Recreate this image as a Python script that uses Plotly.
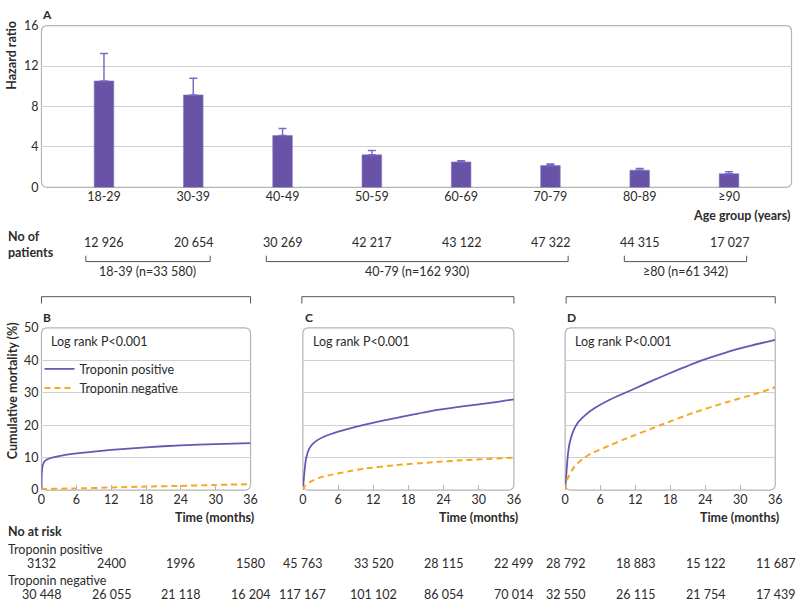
import plotly.graph_objects as go

# ---------------- data ----------------
age_groups = ["18-29", "30-39", "40-49", "50-59", "60-69", "70-79", "80-89", "≥90"]
hazard_ratio = [10.53, 9.15, 5.14, 3.23, 2.52, 2.16, 1.71, 1.36]
ci_upper = [13.25, 10.8, 5.82, 3.65, 2.65, 2.33, 1.87, 1.55]
n_patients = [12926, 20654, 30269, 42217, 43122, 47322, 44315, 17027]

group_labels = ["18-39 (n=33 580)", "40-79 (n=162 930)", "≥80 (n=61 342)"]
panel_letters = ["B", "C", "D"]

# cumulative mortality (%)
t_B_pos = [0, 0.05, 0.2, 0.5, 1, 2, 3, 6, 12, 18, 24, 30, 36]
y_B_pos = [0, 5.0, 7.5, 8.8, 9.5, 10.1, 10.5, 11.3, 12.4, 13.2, 13.8, 14.2, 14.5]
t_B_neg = [0, 0.4, 6, 12, 18, 24, 30, 36]
y_B_neg = [0, 0.3, 0.5, 0.8, 1.1, 1.3, 1.6, 1.8]

t_C_pos = [0, 0.28, 0.56, 1.1, 2, 3.4, 4.8, 7.6, 10.4, 16, 21.6, 27.2, 32.9, 36]
y_C_pos = [0, 5.8, 9.8, 12.8, 14.8, 16.3, 17.3, 18.8, 20.1, 22.3, 24.3, 25.8, 27.1, 28.0]
t_C_neg = [0, 0.3, 1.4, 3.1, 4.8, 7.6, 10.4, 16, 21.6, 27.2, 36]
y_C_neg = [0, 1.2, 2.7, 4.0, 4.7, 5.7, 6.6, 7.7, 8.5, 9.2, 10.0]

t_D_pos = [0, 0.2, 0.45, 0.73, 1.3, 2.1, 3.5, 5, 7.8, 10.3, 13.4, 16.3, 19.1, 23.3, 27.5, 32, 36]
y_D_pos = [0, 5.0, 10.7, 14.2, 17.8, 20.6, 23.2, 25.2, 28.0, 30.0, 32.5, 34.8, 36.9, 39.9, 42.4, 44.6, 46.3]
t_D_neg = [0, 0.1, 0.45, 1.6, 3.3, 4.4, 7.8, 10.6, 16.3, 21.9, 27.5, 33.2, 36]
y_D_neg = [0, 1.5, 3.7, 7.3, 10.0, 11.2, 13.9, 16.0, 20.0, 23.8, 27.0, 30.0, 31.7]

time_ticks = [0, 6, 12, 18, 24, 30, 36]
risk_times = [0, 12, 24, 36]
risk_pos_B = [3132, 2400, 1996, 1580]
risk_pos_C = [45763, 33520, 28115, 22499]
risk_pos_D = [28792, 18883, 15122, 11687]
risk_neg_B = [30448, 26055, 21118, 16204]
risk_neg_C = [117167, 101102, 86054, 70014]
risk_neg_D = [32550, 26115, 21754, 17439]

# ---------------- style ----------------
W, H = 800, 608
FONT = "Lato, 'Open Sans', sans-serif"
TXT = "#2b2b2b"
BAR = "#6953A6"
ERR = "#7B6BC6"
PURPLE = "#6757B3"
ORANGE = "#F7A823"
GRID = "#cfcfcf"
FRAME = "#b4b4b4"


def X(px):
    return px / W


def Y(py):
    return 1 - py / H


def fmt(n):
    return f"{n:,}".replace(",", " ") if n >= 10000 else str(n)


def rrect(x0, y0, x1, y1, r=6):
    return (f"M {X(x0+r)},{Y(y0)} L {X(x1-r)},{Y(y0)} Q {X(x1)},{Y(y0)} {X(x1)},{Y(y0+r)} "
            f"L {X(x1)},{Y(y1-r)} Q {X(x1)},{Y(y1)} {X(x1-r)},{Y(y1)} "
            f"L {X(x0+r)},{Y(y1)} Q {X(x0)},{Y(y1)} {X(x0)},{Y(y1-r)} "
            f"L {X(x0)},{Y(y0+r)} Q {X(x0)},{Y(y0)} {X(x0+r)},{Y(y0)} Z")


fig = go.Figure()

# Panel A bars
fig.add_trace(go.Bar(
    x=age_groups, y=hazard_ratio, width=0.22,
    marker=dict(color=BAR, line=dict(color="#8a7cc8", width=0.6)),
    error_y=dict(type="data", symmetric=False,
                 array=[u - h for u, h in zip(ci_upper, hazard_ratio)],
                 arrayminus=[0] * len(hazard_ratio),
                 color=ERR, thickness=1.5, width=4),
    showlegend=False, xaxis="x", yaxis="y"))

curves = [
    ("x2", "y2", t_B_pos, y_B_pos, t_B_neg, y_B_neg, True),
    ("x3", "y3", t_C_pos, y_C_pos, t_C_neg, y_C_neg, False),
    ("x4", "y4", t_D_pos, y_D_pos, t_D_neg, y_D_neg, False),
]
for xa, ya, tp, yp, tn, yn, leg in curves:
    fig.add_trace(go.Scatter(x=tp, y=yp, mode="lines", name="Troponin positive",
                             line=dict(color=PURPLE, width=1.8, shape="spline", smoothing=0.5),
                             showlegend=leg, xaxis=xa, yaxis=ya))
    fig.add_trace(go.Scatter(x=tn, y=yn, mode="lines", name="Troponin negative",
                             line=dict(color=ORANGE, width=2, dash="6px,4px", shape="spline", smoothing=0.5),
                             showlegend=leg, xaxis=xa, yaxis=ya))

tickfont = dict(family=FONT, size=12.5, color=TXT)

panel_x = [(38, 250), (303, 517), (569, 782)]
py0, py1 = 328, 494.3

layout = dict(
    width=W, height=H,
    margin=dict(l=0, r=0, t=0, b=0),
    paper_bgcolor="white", plot_bgcolor="rgba(0,0,0,0)",
    font=dict(family=FONT, size=12, color=TXT),
    xaxis=dict(domain=[X(38), X(798.5)], range=[-0.7, 7.7], type="category",
               showgrid=False, zeroline=False, showline=False, ticks="",
               tickfont=tickfont, anchor="y"),
    yaxis=dict(domain=[Y(184), Y(18)], range=[0, 16], tickvals=[0, 4, 8, 12, 16],
               gridcolor=GRID, gridwidth=1, zeroline=False, showline=False,
               tickfont=tickfont, anchor="x", ticklabelstandoff=2),
    legend=dict(x=X(36), y=Y(355), xanchor="left", yanchor="top",
                bgcolor="rgba(0,0,0,0)", font=dict(family=FONT, size=12.5, color=TXT),
                itemwidth=30, tracegroupgap=0),
    showlegend=True,
)
for i, (xl, xr) in enumerate(panel_x):
    k = str(i + 2)
    layout["xaxis" + k] = dict(domain=[X(xl), X(xr)], range=[0, 36], tickvals=time_ticks,
                               ticks="inside", ticklen=5, tickcolor=FRAME, showgrid=False,
                               zeroline=False, showline=False, tickfont=tickfont,
                               anchor="y" + k)
    layout["yaxis" + k] = dict(domain=[Y(py1), Y(py0)], range=[0, 50], tickvals=[0, 10, 20, 30, 40, 50],
                               gridcolor=GRID, zeroline=False, showline=False,
                               showticklabels=(i == 0), tickfont=tickfont,
                               anchor="x" + k, ticklabelstandoff=2)
fig.update_layout(**layout)

# frames
shapes = [dict(type="path", path=rrect(38, 18, 798.5, 184), xref="paper", yref="paper",
               line=dict(color=FRAME, width=1.2), layer="below")]
for xl, xr in panel_x:
    shapes.append(dict(type="path", path=rrect(xl, py0, xr, py1), xref="paper", yref="paper",
                       line=dict(color=FRAME, width=1.2), layer="below"))

# brackets
BR = "#555555"
small_br = [(83, 209), (266, 572), (629, 753)]
for a, b in small_br:
    shapes.append(dict(type="path", xref="paper", yref="paper", line=dict(color=BR, width=1),
                       path=f"M {X(a)},{Y(254)} L {X(a)},{Y(260)} L {X(b)},{Y(260)} L {X(b)},{Y(254)}"))
big_br = [(38, 250), (302, 517), (570, 782)]
for a, b in big_br:
    shapes.append(dict(type="path", xref="paper", yref="paper", line=dict(color=BR, width=1),
                       path=f"M {X(a)},{Y(303)} L {X(a)},{Y(296)} L {X(b)},{Y(296)} L {X(b)},{Y(303)}"))
fig.update_layout(shapes=shapes)

ann = []


def A(x, y, text, xanchor="left", bold=False, size=12.5, xref="paper", angle=0, yanchor="middle"):
    if bold:
        text = f"<b>{text}</b>"
    ann.append(dict(x=x, y=y, xref=xref, yref="paper", text=text, showarrow=False,
                    xanchor=xanchor, yanchor=yanchor, textangle=angle,
                    font=dict(family=FONT, size=size, color=TXT)))


A(X(36), Y(7), "A", bold=True, size=12)
A(X(8), Y(48), "Hazard ratio", xanchor="center", bold=True, angle=-90, size=12.5)
A(X(799), Y(213), "Age group (years)", xanchor="right", bold=True, size=12.5)
ann.append(dict(x=X(2), y=Y(242), xref="paper", yref="paper", text="<b>No of<br>patients</b>",
                showarrow=False, xanchor="left", yanchor="middle", align="left",
                font=dict(family=FONT, size=12.5, color=TXT)))
for g, n in zip(age_groups, n_patients):
    A(g, Y(240), fmt(n), xanchor="center", xref="x")
for lab, (a, b) in zip(group_labels, small_br):
    A(X((a + b) / 2), Y(270), lab, xanchor="center")

A(X(8), Y(392), "Cumulative mortality (%)", xanchor="center", bold=True, angle=-90, size=12.5)
for let, (xl, xr) in zip(panel_letters, panel_x):
    A(X(xl), Y(317), let, bold=True, size=12)
    A(X(xl + 8), Y(342), "Log rank P<0.001")
    A(X(xr + 6), Y(522), "Time (months)", xanchor="right", bold=True)

A(X(2), Y(537), "No at risk", bold=True)
A(X(2), Y(555), "Troponin positive")
A(X(2), Y(587), "Troponin negative")
for k, pos, neg in zip(["x2", "x3", "x4"], [risk_pos_B, risk_pos_C, risk_pos_D],
                       [risk_neg_B, risk_neg_C, risk_neg_D]):
    for t, p, n in zip(risk_times, pos, neg):
        A(t, Y(570), fmt(p), xanchor="center", xref=k)
        A(t, Y(601), fmt(n), xanchor="center", xref=k)

fig.update_layout(annotations=ann)
fig.write_html("out.html", config={"displayModeBar": False},
               post_script="document.documentElement.style.margin='0';document.body.style.margin='0';"
                           "document.body.style.overflow='hidden';")
